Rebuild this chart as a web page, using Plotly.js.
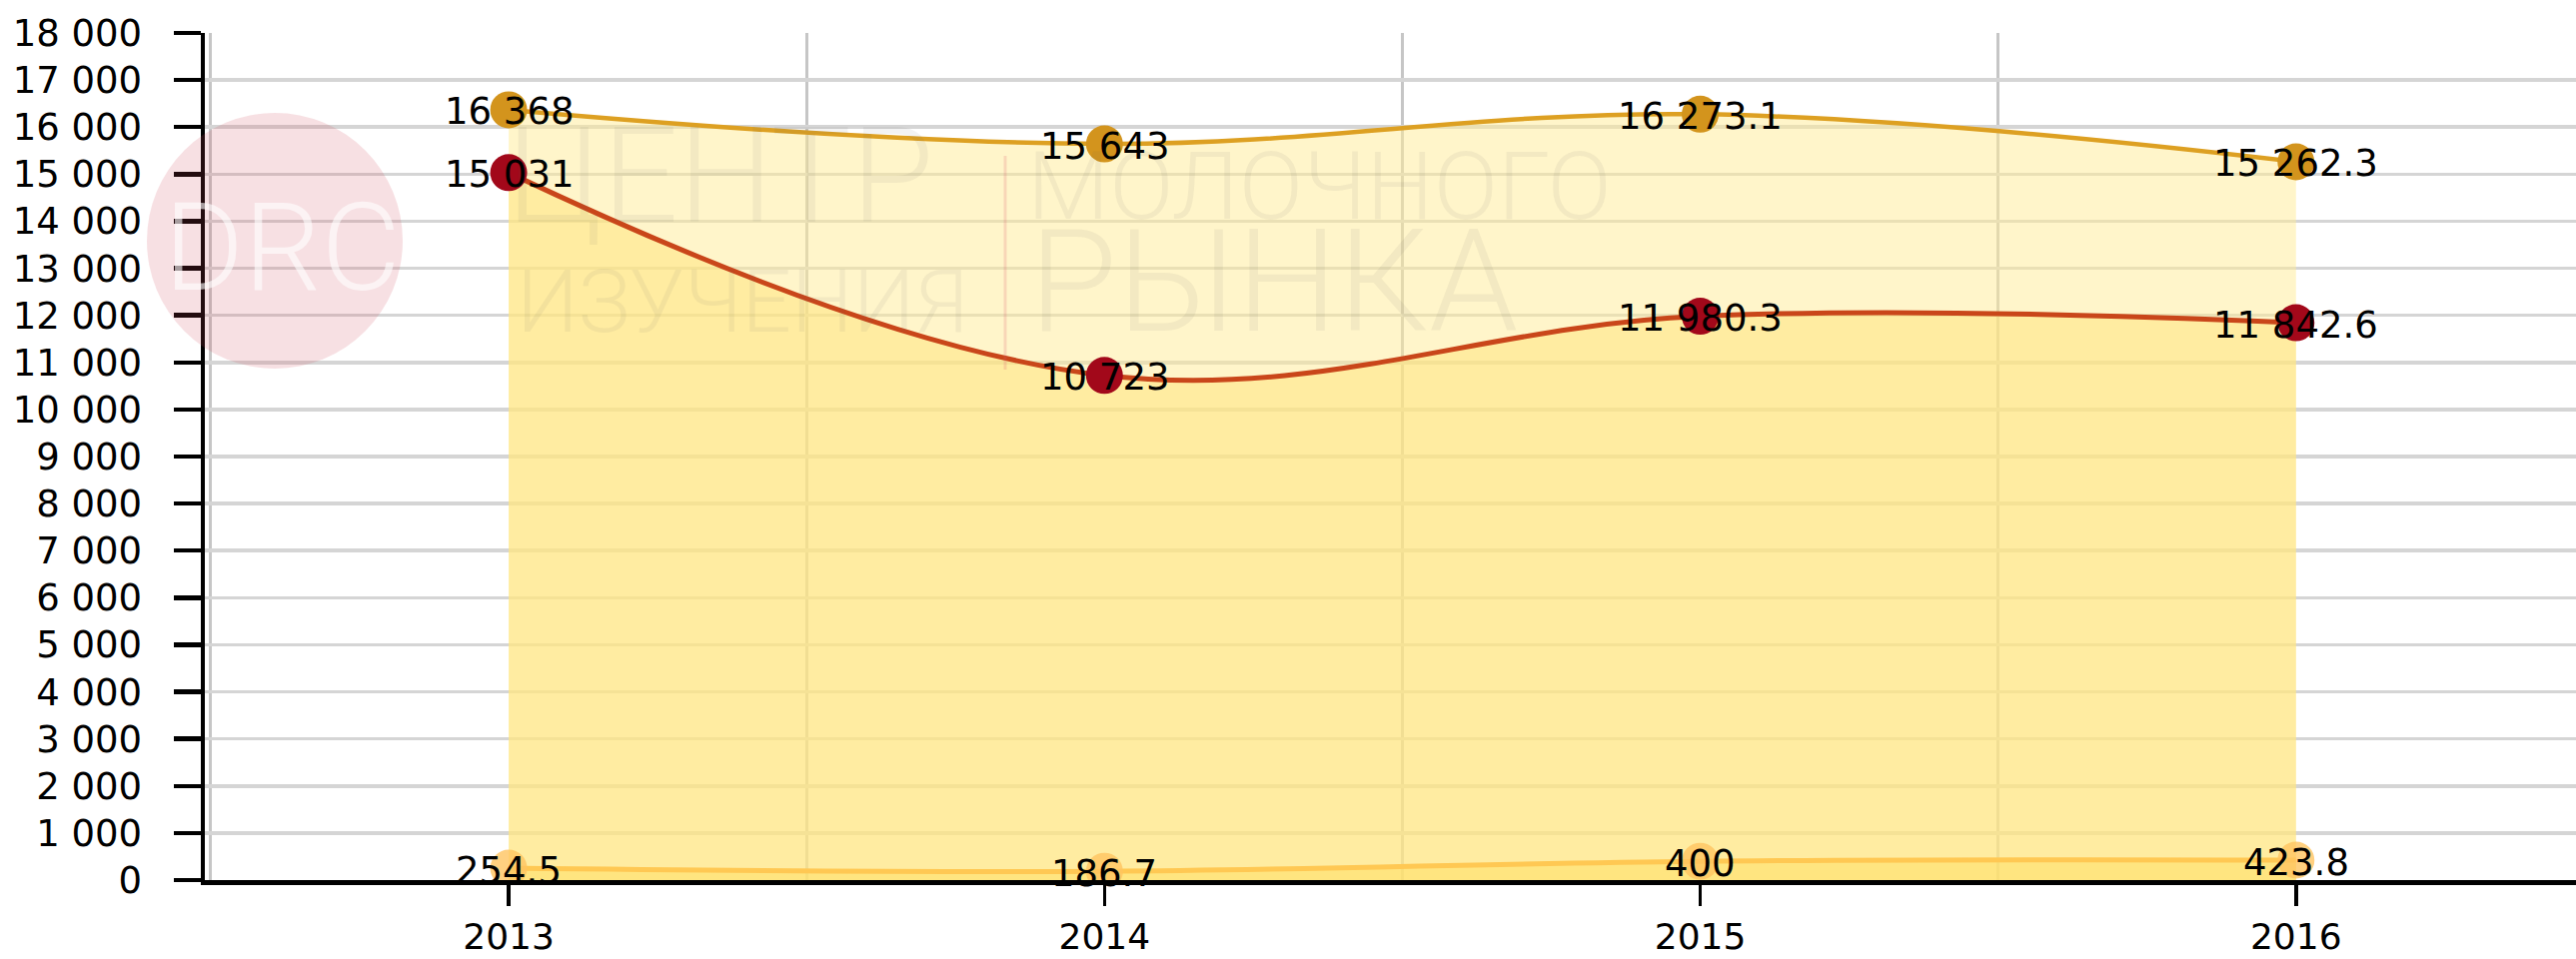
<!DOCTYPE html>
<html>
<head>
<meta charset="utf-8">
<script src="https://cdn.plot.ly/plotly-3.0.1.min.js"></script>
<style>html,body{margin:0;padding:0;background:#fff;}#chart{width:2578px;height:960px;}</style>
</head>
<body>
<div id="chart"></div>
<script>
// ---- data ----
const years = [2013, 2014, 2015, 2016];
const yearLabels = ['2013', '2014', '2015', '2016'];
const seriesTop = [16368, 15643, 16273.1, 15262.3];
const seriesMid = [15031, 10723, 11980.3, 11842.6];
const seriesLow = [254.5, 186.7, 400, 423.8];
const yTicks = [0, 1000, 2000, 3000, 4000, 5000, 6000, 7000, 8000, 9000, 10000, 11000, 12000, 13000, 14000, 15000, 16000, 17000, 18000];
const yTickLabels = ['0', '1 000', '2 000', '3 000', '4 000', '5 000', '6 000', '7 000', '8 000', '9 000', '10 000', '11 000', '12 000', '13 000', '14 000', '15 000', '16 000', '17 000', '18 000'];

function fmt(v) {
  const parts = String(v).split('.');
  const intp = parts[0].replace(/\B(?=(\d{3})+(?!\d))/g, ' ');
  return parts.length > 1 ? intp + '.' + parts[1] : intp;
}

const FONT = 'DejaVu Sans, Verdana, sans-serif';
const L = 205, R = 2578, T = 33, B = 881, W = 2578, H = 960;
const px = v => (v - L) / (R - L);
const py = v => (B - v) / (B - T);

function areaTrace(y, lineColor, lineWidth, markerColor, fillColor) {
  return {
    x: years, y: y, type: 'scatter', mode: 'lines+markers',
    line: {shape: 'spline', smoothing: 1.1, color: lineColor, width: lineWidth},
    marker: {size: 37, color: markerColor},
    fill: 'tozeroy', fillcolor: fillColor,
    hoverinfo: 'skip', showlegend: false
  };
}

const data = [
  areaTrace(seriesTop, '#DDA022', 4.5, '#D3941D', 'rgba(255,236,150,0.5)'),
  areaTrace(seriesMid, '#C9461A', 5, '#A2081A', 'rgba(255,228,120,0.5)'),
  areaTrace(seriesLow, '#FFC853', 5, 'rgba(255,196,96,0.8)', 'rgba(255,222,95,0.5)')
];

const wmText = 'rgba(90,90,90,0.075)';
const wmFont = (s, c) => ({family: 'Roboto, Lato, sans-serif', size: s, color: c || wmText, weight: 300});

const watermark = [
  {xref: 'paper', yref: 'paper', x: px(282), y: py(248), xanchor: 'center', yanchor: 'middle', showarrow: false,
   text: 'DRC', font: wmFont(122, 'rgba(255,255,255,0.6)')},
  {xref: 'paper', yref: 'paper', x: px(505), y: py(176), xanchor: 'left', yanchor: 'middle', showarrow: false,
   text: 'ЦЕНТР', font: wmFont(134)},
  {xref: 'paper', yref: 'paper', x: px(515), y: py(302), xanchor: 'left', yanchor: 'middle', showarrow: false,
   text: 'ИЗУЧЕНИЯ', font: wmFont(87)},
  {xref: 'paper', yref: 'paper', x: px(1026), y: py(186), xanchor: 'left', yanchor: 'middle', showarrow: false,
   text: 'МОЛОЧНОГО', font: wmFont(95)},
  {xref: 'paper', yref: 'paper', x: px(1028), y: py(282), xanchor: 'left', yanchor: 'middle', showarrow: false,
   text: 'РЫНКА', font: wmFont(143)}
];

// data labels, placed through the data axes
const labels = [];
[seriesTop, seriesMid, seriesLow].forEach(function (s) {
  s.forEach(function (v, i) {
    labels.push({xref: 'x', yref: 'y', x: years[i], y: v, text: fmt(v), showarrow: false,
      xanchor: 'center', yanchor: 'middle', yshift: -2,
      font: {family: FONT, size: 37, color: '#000'}});
  });
});

const layout = {
  width: W, height: H,
  margin: {l: L, r: W - R, t: T, b: H - B, pad: 0},
  paper_bgcolor: '#fff', plot_bgcolor: '#fff',
  showlegend: false,
  xaxis: {
    range: [2012.49, 2016.47], tickmode: 'array', tickvals: years, ticktext: yearLabels,
    ticks: 'outside', ticklen: 21, tickwidth: 3.5, tickcolor: '#000',
    showline: true, linecolor: '#000', linewidth: 4.5,
    showgrid: false, zeroline: false,
    tickfont: {family: FONT, size: 36, color: '#000'},
    ticklabelstandoff: 0,
    minor: {tickmode: 'linear', tick0: 2012.5, dtick: 1, showgrid: true, gridcolor: '#c6c6c6', gridwidth: 3, ticks: ''},
    fixedrange: true
  },
  yaxis: {
    range: [0, 18000], tickmode: 'array', tickvals: yTicks, ticktext: yTickLabels,
    ticks: 'outside', ticklen: 27, tickwidth: 4.5, tickcolor: '#000',
    showline: true, linecolor: '#000', linewidth: 4.5,
    showgrid: true, gridcolor: '#d5d5d5', gridwidth: 3.5, zeroline: false,
    tickfont: {family: FONT, size: 37, color: '#000'},
    ticklabelstandoff: 24,
    fixedrange: true
  },
  shapes: [
    {type: 'circle', xref: 'paper', yref: 'paper', x0: px(147), x1: px(403), y0: py(369), y1: py(113),
     fillcolor: 'rgba(210,70,90,0.17)', line: {width: 0}, layer: 'above'},
    {type: 'line', xref: 'paper', yref: 'paper', x0: px(1006), x1: px(1006), y0: py(370), y1: py(156),
     line: {color: 'rgba(220,90,110,0.2)', width: 3}, layer: 'above'}
  ],
  annotations: watermark.concat(labels)
};

Plotly.newPlot('chart', data, layout, {displayModeBar: false, staticPlot: true});
</script>
</body>
</html>
